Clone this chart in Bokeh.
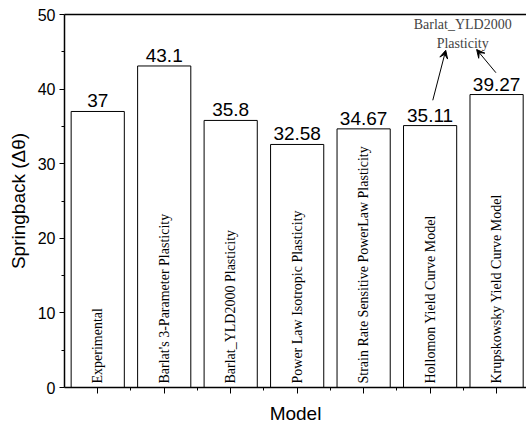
import math
from bokeh.plotting import figure
from bokeh.models import (ColumnDataSource, Range1d, FixedTicker, LinearAxis, Arrow,
                          VeeHead, Label)
from bokeh.core.properties import value
from bokeh.embed import file_html
from bokeh.resources import INLINE

models = ["Experimental", "Barlat's 3-Parameter Plasticity", "Barlat_YLD2000 Plasticity",
          "Power Law Isotropic Plasticity", "Strain Rate Sensitive PowerLaw Plasticity",
          "Hollomon Yield Curve Model", "Krupskowsky Yield Curve Model"]
springback = [37, 43.1, 35.8, 32.58, 34.67, 35.11, 39.27]
value_labels = ["37", "43.1", "35.8", "32.58", "34.67", "35.11", "39.27"]
positions = list(range(1, len(models) + 1))
y_ticks = [0, 10, 20, 30, 40, 50]

src = ColumnDataSource(dict(x=positions, top=springback, vlab=value_labels,
                            name=models, base=[0] * len(models)))

p = figure(width=526, height=426, output_backend="svg", toolbar_location=None,
           x_range=Range1d(0.5, 7.45), y_range=Range1d(0, 50),
           min_border_left=64, min_border_right=0, min_border_top=14, min_border_bottom=39)
p.outline_line_color = None
p.xgrid.grid_line_color = None
p.ygrid.grid_line_color = None

p.vbar(x="x", top="top", width=0.8, bottom=0, source=src,
       fill_color="white", line_color="black", line_width=1)

p.text(x="x", y="top", text="vlab", source=src, text_align="center",
       text_baseline="bottom", y_offset=-4, text_font=value("Liberation Sans"),
       text_font_size="19px", text_color="black")

p.text(x="x", y="base", text="name", source=src, angle=math.pi / 2,
       text_align="left", text_baseline="middle", y_offset=-4,
       text_font=value("Liberation Serif"), text_font_size="14px", text_color="black")

# axes styling
xa = p.xaxis[0]
xa.ticker = FixedTicker(ticks=positions, minor_ticks=[1.5, 2.5, 3.5, 4.5, 5.5, 6.5])
xa.major_label_overrides = {i: "" for i in positions}
xa.major_label_standoff = 0
xa.major_tick_out = 6
xa.major_tick_in = 0
xa.minor_tick_out = 3
xa.minor_tick_in = 0
xa.axis_label = "Model"
xa.axis_label_text_font = "Liberation Sans"
xa.axis_label_text_font_size = "19px"
xa.axis_label_text_font_style = "normal"
xa.axis_label_text_color = "black"
xa.axis_label_standoff = 9
xa.axis_line_width = 1.5
xa.axis_line_color = "black"
xa.major_tick_line_color = "black"
xa.minor_tick_line_color = "black"

ya = p.yaxis[0]
ya.ticker = FixedTicker(ticks=y_ticks, minor_ticks=[5, 15, 25, 35, 45])
ya.major_label_text_font = "Liberation Sans"
ya.major_label_text_font_size = "16px"
ya.major_label_text_color = "black"
ya.major_label_standoff = 4
ya.major_tick_out = 5
ya.major_tick_in = 0
ya.minor_tick_out = 3
ya.minor_tick_in = 0
ya.axis_label = "Springback (\u0394\u03b8)"
ya.axis_label_text_font = "Liberation Sans"
ya.axis_label_text_font_size = "19px"
ya.axis_label_text_font_style = "normal"
ya.axis_label_text_color = "black"
ya.axis_label_standoff = 6
ya.axis_line_width = 1.5
ya.axis_line_color = "black"
ya.major_tick_line_color = "black"
ya.minor_tick_line_color = "black"

top_axis = LinearAxis(major_tick_line_color=None, minor_tick_line_color=None,
                      major_label_text_font_size="0px", axis_line_width=1.5,
                      axis_line_color="black")
top_axis.ticker = FixedTicker(ticks=[])
p.add_layout(top_axis, "above")

# annotation
ann_x = 6.49
p.add_layout(Label(x=ann_x, y=48.7, text="Barlat_YLD2000", text_align="center",
                   text_baseline="middle", text_font="Liberation Serif",
                   text_font_size="14px"))
p.add_layout(Label(x=ann_x, y=46.1, text="Plasticity", text_align="center",
                   text_baseline="middle", text_font="Liberation Serif",
                   text_font_size="14px"))
p.add_layout(Arrow(x_start=6.04, y_start=38.5, x_end=6.235, y_end=45.2,
                   line_color="black", line_width=1,
                   end=VeeHead(size=8, fill_color="black", line_color="black")))
p.add_layout(Arrow(x_start=6.99, y_start=42.2, x_end=6.70, y_end=45.3,
                   line_color="black", line_width=1,
                   end=VeeHead(size=8, fill_color="black", line_color="black")))

open("out.html", "w").write(file_html(p, INLINE))
